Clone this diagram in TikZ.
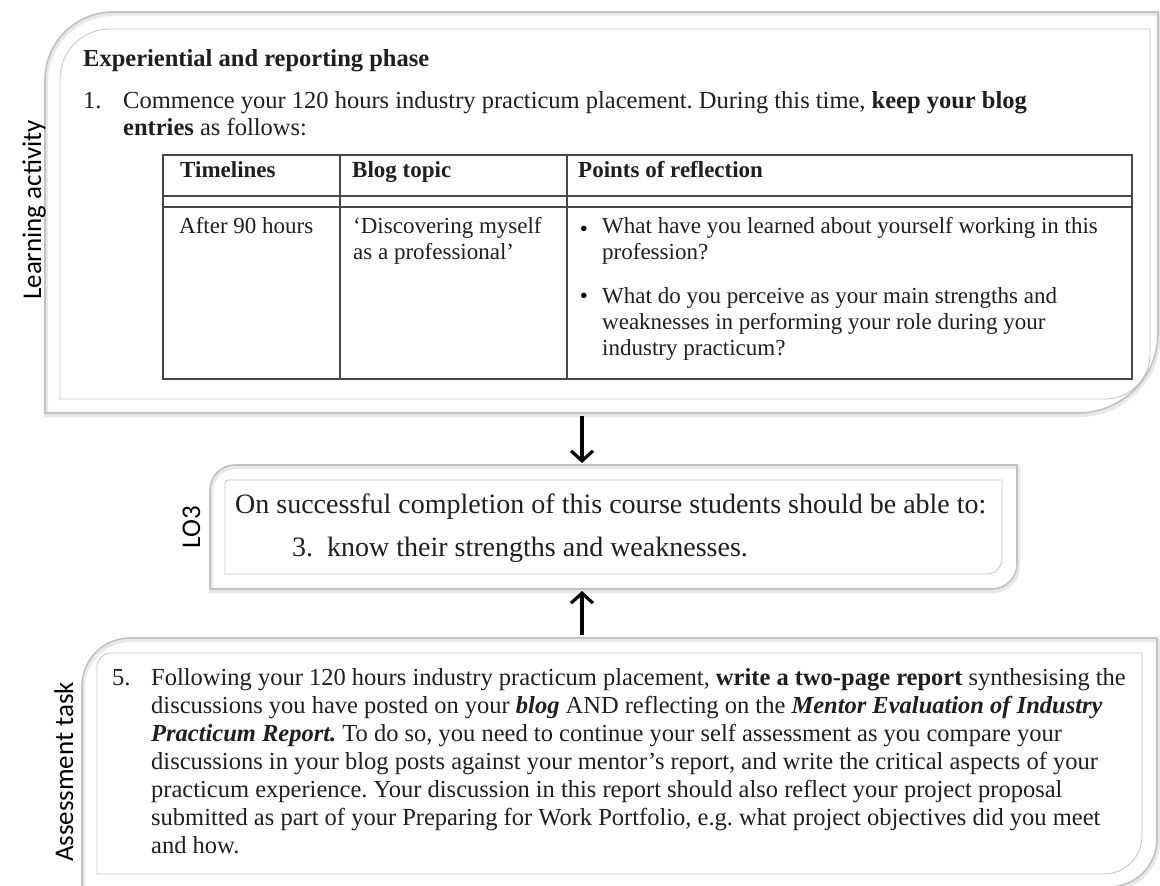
\documentclass[tikz,border=0pt]{standalone}
\usepackage{fontspec}
\setmainfont{Liberation Serif}
\newfontfamily\labelfont{Carlito}
\usetikzlibrary{arrows.meta}
\frenchspacing

% outline with a rounded top-left and a rounded bottom-right corner
\newcommand{\cornerframe}[4][]{%
  \draw[#1] (#2.south west) -- ([yshift=-#3]#2.north west)
    arc[start angle=180, end angle=90, radius=#3]
    -- (#2.north east) -- ([yshift=#4]#2.south east)
    arc[start angle=0, end angle=-90, radius=#4] -- cycle;}

\begin{document}
\begin{tikzpicture}[x=1pt, y=1pt,
    area/.style={inner sep=0pt, outer sep=0pt},
    rim/.style={draw=black!24, line width=1.6pt},
    halo/.style={draw=black!9, line width=4pt, transform canvas={shift={(1pt,-2pt)}}},
    shot/.style={draw=black!22, line width=0.9pt},
    txt/.style={anchor=base west, inner sep=0pt, text=black!88},
    big/.style={font=\fontsize{24.5}{28}\selectfont},
    cell/.style={font=\fontsize{23}{26}\selectfont},
    lotxt/.style={font=\fontsize{28}{32}\selectfont},
    side/.style={rotate=90, anchor=base, inner sep=0pt, text=black, font=\labelfont\fontsize{27}{30}\selectfont},
    rule/.style={draw=black!72, line width=1.8pt},
    arr/.style={-{Straight Barb[length=10pt, width=22pt]}, line width=3.2pt, shorten <=3pt, shorten >=2pt}
]
\useasboundingbox (0,0) rectangle (1160,-886);
\fill[white] (0,0) rectangle (1160,-886);
\clip (0,0) rectangle (1160,-886);

% the three boxes
\node[area, minimum width=1113pt, minimum height=401pt] (act) at (601.5,-212.5) {};
\node[area, minimum width=1090pt, minimum height=370pt] (actin) at (605,-214) {};
\node[area, minimum width=807pt, minimum height=124pt] (lo) at (613.5,-527) {};
\node[area, minimum width=777pt, minimum height=94pt] (loin) at (613.5,-527) {};
\node[area, minimum width=1075pt, minimum height=249pt] (task) at (619.5,-762.5) {};
\node[area, minimum width=1045pt, minimum height=221pt] (taskin) at (619.5,-763.5) {};

\cornerframe[halo]{act}{68pt}{80pt}
\cornerframe[rim]{act}{68pt}{80pt}
\cornerframe[shot]{actin}{50pt}{45pt}
\cornerframe[halo]{lo}{25pt}{25pt}
\cornerframe[rim]{lo}{25pt}{25pt}
\cornerframe[shot]{loin}{3pt}{15pt}
\cornerframe[halo]{task}{48pt}{48pt}
\cornerframe[rim]{task}{48pt}{48pt}
\cornerframe[shot]{taskin}{14pt}{38pt}

% side labels
\node[side] (actlbl) at (41,-210) {Learning activity};
\node[side] (lolbl) at (200,-527) {LO3};
\node[side] (tasklbl) at (73,-772) {Assessment task};

% learning activity
\node[txt, big] (phase) at (83,-66) {\textbf{Experiential and reporting phase}};
\node[txt, big] (num1) at (83,-108) {1.};
\node[txt, big] (act1) at (123,-108) {Commence your 120 hours industry practicum placement. During this time, \textbf{keep your blog}};
\node[txt, big] (act2) at (123,-135) {\textbf{entries} as follows:};

% table
\draw[rule] (163,-155) rectangle (1132,-379);
\draw[rule] (163,-196) -- (1132,-196) (163,-207) -- (1132,-207);
\draw[rule] (340,-155) -- (340,-379) (567,-155) -- (567,-379);
\node[txt, cell] (hd1) at (180,-177) {\textbf{Timelines}};
\node[txt, cell] (hd2) at (352,-177) {\textbf{Blog topic}};
\node[txt, cell] (hd3) at (578,-177) {\textbf{Points of reflection}};
\node[txt, cell] (time) at (179,-233) {After 90 hours};
\node[txt, cell] (topic1) at (353,-233) {‘Discovering myself};
\node[txt, cell] (topic2) at (353,-259) {as a professional’};
\node[cell, inner sep=0pt] (bul1) at (584,-231) {•};
\node[cell, inner sep=0pt] (bul2) at (584,-298) {•};
\foreach \row/\yy in {{What have you learned about yourself working in this}/233,
    {profession?}/259,
    {What do you perceive as your main strengths and}/303,
    {weaknesses in performing your role during your}/329,
    {industry practicum?}/355}
  \node[txt, cell] (pt\yy) at (602,-\yy) {\row};

% learning outcome
\node[txt, lotxt] (lo1) at (235,-513) {On successful completion of this course students should be able to:};
\node[txt, lotxt] (num3) at (292,-556) {3.};
\node[txt, lotxt] (lo2) at (327,-556) {know their strengths and weaknesses.};

% assessment task
\node[txt, big] (num5) at (112,-685) {5.};
\foreach \row [count=\i from 0] in {%
    {Following your 120 hours industry practicum placement, \textbf{write a two-page report} synthesising the},
    {discussions you have posted on your \textbf{\textit{blog}} AND reflecting on the \textbf{\textit{Mentor Evaluation of Industry}}},
    {\textbf{\textit{Practicum Report.}} To do so, you need to continue your self assessment as you compare your},
    {discussions in your blog posts against your mentor’s report, and write the critical aspects of your},
    {practicum experience. Your discussion in this report should also reflect your project proposal},
    {submitted as part of your Preparing for Work Portfolio, e.g. what project objectives did you meet},
    {and how.}}
  \node[txt, big] (task\i) at (151,-685-28*\i) {\row};

% connectors
\coordinate (spine) at (582,0);
\draw[arr] (act.south -| spine) -- (lo.north -| spine);
\draw[arr] (task.north -| spine) -- (lo.south -| spine);
\end{tikzpicture}
\end{document}
